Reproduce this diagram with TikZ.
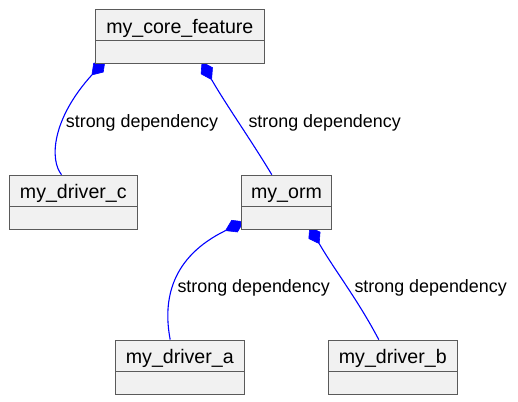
\documentclass[tikz,border=0pt]{standalone}
\usepackage{fontspec}
\setmainfont{Liberation Sans}
\usetikzlibrary{calc}
\pgfdeclarelayer{edges}
\pgfsetlayers{edges,main}
\definecolor{boxfill}{HTML}{F1F1F1}
\definecolor{boxline}{HTML}{5A5A5A}
\definecolor{deplink}{HTML}{0000FF}
\tikzset{
  cls/.style={draw=boxline, fill=boxfill, line width=1pt, rectangle, minimum height=54pt, inner sep=0pt},
  clsname/.style={anchor=base, inner sep=0pt, font=\fontsize{19.6}{22}\selectfont},
  divider/.style={draw=boxline, line width=1pt},
  dep/.style={draw=deplink, line width=1.1pt},
  diamondtip/.style={fill=deplink, draw=deplink, line width=0.6pt, line join=miter},
  deplabel/.style={anchor=base west, inner sep=0pt, font=\fontsize{17.9}{20}\selectfont}
}
\begin{document}
\begin{tikzpicture}[x=1pt,y=-1pt]
\useasboundingbox (0,0) rectangle (518,401);
% classes
\node[cls, minimum width=169pt] (core) at (179.8,36.3) {};
\node[cls, minimum width=128pt] (drvc) at (73.3,202.2) {};
\node[cls, minimum width=90.4pt] (orm) at (286.5,202.2) {};
\node[cls, minimum width=129pt] (drva) at (179.8,367.2) {};
\node[cls, minimum width=129pt] (drvb) at (392.8,367.2) {};
% names
\node[clsname] (coren) at ($(core.north)+(0,24.8)$) {my\_core\_feature};
\node[clsname] (drvcn) at ($(drvc.north)+(0,23.8)$) {my\_driver\_c};
\node[clsname] (ormn) at ($(orm.north)+(0,23.8)$) {my\_orm};
\node[clsname] (drvan) at ($(drva.north)+(0,23.8)$) {my\_driver\_a};
\node[clsname] (drvbn) at ($(drvb.north)+(0,23.8)$) {my\_driver\_b};
% dividers
\foreach \n in {core,drvc,orm,drva,drvb}{
  \draw[divider] ($(\n.north west)+(1,31.8)$) -- ($(\n.north east)+(-1,31.8)$);
}
% diamond ends (start inside the owning box, tip outside)
\coordinate (s1) at ($(core.south west)+(10.2,-3.3)$);
\coordinate (t1) at ($(core.south west)+(-2.9,11.1)$);
\coordinate (s2) at ($(core.south west)+(107.2,-1.8)$);
\coordinate (t2) at ($(core.south west)+(116.8,15.8)$);
\coordinate (s3) at ($(orm.south west)+(2.8,-8.0)$);
\coordinate (t3) at ($(orm.south west)+(-15.3,0.9)$);
\coordinate (s4) at ($(orm.south west)+(68.9,-2.6)$);
\coordinate (t4) at ($(orm.south west)+(78.4,13.9)$);
% connectors (behind the boxes)
\begin{pgfonlayer}{edges}
\draw[dep] (t1) .. controls ($(core.south west)+(-43.1,55.5)$) and ($(drvc.north west)+(40.7,-15)$) .. ($(drvc.north west)+(52.7,0)$);
\draw[dep] (t2) .. controls ($(core.south west)+(131.8,41.8)$) and ($(orm.north west)+(10,-35)$) .. ($(orm.north west)+(31,0)$);
\draw[dep] (t3) .. controls ($(orm.south west)+(-69.3,27.3)$) and ($(drva.north west)+(47.7,-40.3)$) .. ($(drva.north west)+(55.4,0)$);
\draw[dep] (t4) .. controls ($(orm.south west)+(93.4,39.9)$) and ($(drvb.north west)+(30,-40)$) .. ($(drvb.north west)+(51,0)$);
\foreach \i in {1,2,3,4}{
  \filldraw[diamondtip] (s\i) -- ($(s\i)!0.5!(t\i)!6.5pt!90:(t\i)$) -- (t\i) -- ($(s\i)!0.5!(t\i)!6.5pt!-90:(t\i)$) -- cycle;
}
\end{pgfonlayer}
% labels
\node[deplabel] (l1) at (65.7,127.7) {strong dependency};
\node[deplabel] (l2) at (248.3,127.7) {strong dependency};
\node[deplabel] (l3) at (177.3,292.3) {strong dependency};
\node[deplabel] (l4) at (354.3,292.3) {strong dependency};
\end{tikzpicture}
\end{document}
